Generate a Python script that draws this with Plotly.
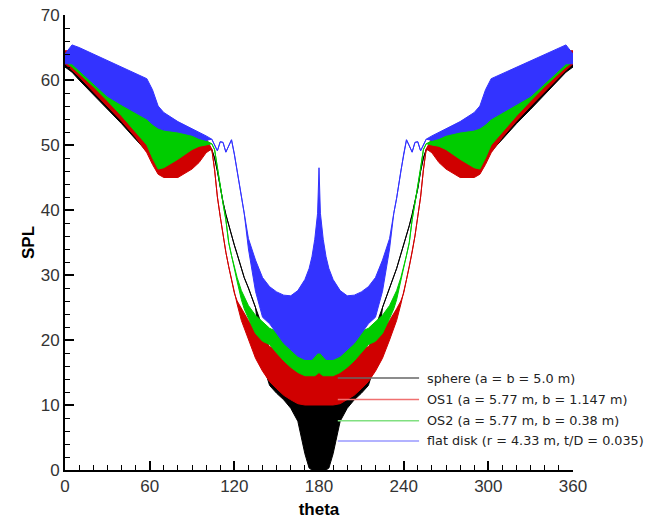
import plotly.graph_objects as go

# theta grid (degrees)
theta = [0, 5, 10, 20, 30, 40, 50, 58, 62, 66, 70, 80, 90, 95, 100, 104, 106, 108, 110, 112,
         114, 116, 118, 120, 122, 125, 127, 130, 135, 140, 145, 150, 155, 160, 165, 170, 173,
         175, 177, 179, 180,
         181, 183, 185, 187, 190, 195, 200, 205, 210, 215, 220, 225, 230, 233, 235, 238, 240,
         242, 244, 246, 248, 250, 252, 254, 256, 260, 265, 270, 280, 290, 294, 298, 302, 310,
         320, 330, 340, 350, 355, 360]

# envelopes of the oscillating SPL curves (upper / lower)
sphere_hi = [64.0, 64.0, 63.0, 61.5, 60.0, 58.5, 57.0, 55.5, 54.5, 53.5, 53.0, 52.5, 51.5, 51.0, 50.5,
             49.3, 48.0, 46.0, 43.3, 41.2, 39.3, 37.6, 36.0, 34.6, 33.2, 31.0, 29.6, 28.0, 25.0, 22.0,
             18.5, 15.5, 13.5, 12.0, 11.0, 11.0, 12.0, 13.0, 14.0, 14.5, 15.0,
             14.5, 14.0, 13.0, 12.0, 11.0, 11.0, 12.0, 13.5, 15.5, 18.5, 22.0, 25.0, 28.0, 29.6, 31.0,
             33.2, 34.6, 36.0, 37.6, 39.3, 41.2, 43.3, 46.0, 48.0, 49.3, 50.5, 51.0, 51.5, 52.5, 53.0,
             53.5, 54.5, 55.5, 57.0, 58.5, 60.0, 61.5, 63.0, 64.0, 64.0]
sphere_lo = [62.0, 61.2, 60.0, 57.8, 55.5, 53.3, 50.9, 49.0, 48.5, 48.0, 47.6, 47.3, 48.0, 48.6, 49.2,
             49.3, 48.0, 46.0, 43.3, 41.2, 39.3, 37.6, 36.0, 34.6, 33.2, 31.0, 29.6, 28.0, 25.0, 16.5,
             13.0, 11.8, 10.8, 9.5, 7.5, 2.5, 0.3, 0.0, 0.0, 0.0, 0.0,
             0.0, 0.0, 0.0, 0.3, 2.5, 7.5, 9.5, 10.8, 11.8, 13.0, 16.5, 25.0, 28.0, 29.6, 31.0,
             33.2, 34.6, 36.0, 37.6, 39.3, 41.2, 43.3, 46.0, 48.0, 49.3, 49.2, 48.6, 48.0, 47.3, 47.6,
             48.0, 48.5, 49.0, 50.9, 53.3, 55.5, 57.8, 60.0, 61.2, 62.0]

os1_hi = [64.5, 64.5, 63.5, 62.0, 60.5, 59.0, 57.5, 56.0, 55.5, 55.0, 54.5, 53.3, 52.2, 51.7, 51.0,
          49.4, 46.2, 42.0, 39.0, 36.0, 33.5, 31.3, 29.3, 27.2, 26.0, 24.8, 24.0, 23.0, 21.5, 20.2,
          19.0, 18.5, 18.0, 17.8, 17.8, 18.0, 18.5, 19.0, 20.5, 23.0, 26.0,
          23.0, 20.5, 19.0, 18.5, 18.0, 17.8, 17.8, 18.0, 18.5, 19.0, 20.2, 21.5, 23.0, 24.0, 24.8,
          26.0, 27.2, 29.3, 31.3, 33.5, 36.0, 39.0, 42.0, 46.2, 49.4, 51.0, 51.7, 52.2, 53.3, 54.5,
          55.0, 55.5, 56.0, 57.5, 59.0, 60.5, 62.0, 63.5, 64.5, 64.5]
os1_lo = [62.5, 61.5, 60.5, 58.2, 56.0, 53.7, 51.2, 48.8, 47.0, 45.5, 45.0, 45.0, 46.3, 47.3, 48.8,
          49.4, 46.2, 42.0, 39.0, 36.0, 33.5, 31.3, 29.3, 27.2, 25.5, 23.0, 21.8, 20.0, 17.2, 15.2,
          13.6, 12.5, 11.5, 10.8, 10.2, 10.0, 10.0, 10.0, 10.0, 10.0, 10.0,
          10.0, 10.0, 10.0, 10.0, 10.0, 10.2, 10.8, 11.5, 12.5, 13.6, 15.2, 17.2, 20.0, 21.8, 23.0,
          25.5, 27.2, 29.3, 31.3, 33.5, 36.0, 39.0, 42.0, 46.2, 49.4, 48.8, 47.3, 46.3, 45.0, 45.0,
          45.5, 47.0, 48.8, 51.2, 53.7, 56.0, 58.2, 60.5, 61.5, 62.5]

os2_hi = [64.0, 64.5, 63.5, 62.0, 60.5, 59.0, 57.5, 56.0, 54.0, 52.5, 52.3, 52.4, 51.8, 51.2, 50.7,
          50.2, 49.3, 46.3, 44.0, 41.0, 38.5, 35.0, 33.0, 31.2, 29.6, 27.6, 26.6, 25.3, 23.8, 22.8,
          21.8, 21.3, 21.0, 20.8, 20.8, 21.0, 22.0, 23.0, 24.5, 26.0, 28.0,
          26.0, 24.5, 23.0, 22.0, 21.0, 20.8, 20.8, 21.0, 21.3, 21.8, 22.8, 23.8, 25.3, 26.6, 27.6,
          29.6, 31.2, 33.0, 35.0, 38.5, 41.0, 44.0, 46.3, 49.3, 50.2, 50.7, 51.2, 51.8, 52.4, 52.3,
          52.5, 54.0, 56.0, 57.5, 59.0, 60.5, 62.0, 63.5, 64.5, 64.0]
os2_lo = [62.8, 62.0, 61.0, 59.0, 56.8, 54.5, 52.0, 50.0, 48.0, 46.3, 46.5, 47.8, 49.3, 49.8, 50.0,
          50.2, 49.3, 46.3, 44.0, 41.0, 38.5, 35.0, 33.0, 31.2, 29.0, 26.2, 24.8, 23.3, 21.0, 19.8,
          19.3, 18.0, 16.8, 15.8, 15.0, 14.5, 14.5, 14.5, 14.5, 14.8, 15.0,
          14.8, 14.5, 14.5, 14.5, 14.5, 15.0, 15.8, 16.8, 18.0, 19.3, 19.8, 21.0, 23.3, 24.8, 26.2,
          29.0, 31.2, 33.0, 35.0, 38.5, 41.0, 44.0, 46.3, 49.3, 50.2, 50.0, 49.8, 49.3, 47.8, 46.5,
          46.3, 48.0, 50.0, 52.0, 54.5, 56.8, 59.0, 61.0, 62.0, 62.8]

disk_hi = [64.0, 65.4, 65.0, 64.0, 63.0, 62.0, 61.0, 60.2, 58.5, 56.0, 55.0, 53.6, 52.5, 52.0, 51.4,
           50.9, 50.0, 49.1, 50.5, 50.4, 48.9, 49.9, 50.8, 48.6, 46.0, 41.8, 39.5, 35.6, 32.3, 29.6,
           28.2, 27.4, 26.9, 26.8, 27.6, 29.3, 31.0, 32.8, 35.5, 39.5, 46.5,
           39.5, 35.5, 32.8, 31.0, 29.3, 27.6, 26.8, 26.9, 27.4, 28.2, 29.6, 32.3, 35.6, 39.5, 41.8,
           46.0, 48.6, 50.8, 49.9, 48.9, 50.4, 50.5, 49.1, 50.0, 50.9, 51.4, 52.0, 52.5, 53.6, 55.0,
           56.0, 58.5, 60.2, 61.0, 62.0, 63.0, 64.0, 65.0, 65.4, 64.0]
disk_lo = [62.5, 62.5, 61.5, 59.5, 57.5, 56.2, 55.0, 54.0, 53.2, 52.6, 52.3, 52.0, 51.5, 51.0, 50.7,
           50.9, 50.0, 49.1, 50.5, 50.4, 48.9, 49.9, 50.8, 48.6, 46.0, 41.8, 39.5, 34.0, 27.5, 23.5,
           22.5, 21.0, 19.5, 18.5, 17.5, 17.0, 17.0, 17.0, 17.5, 18.0, 18.0,
           18.0, 17.5, 17.0, 17.0, 17.0, 17.5, 18.5, 19.5, 21.0, 22.5, 23.5, 27.5, 34.0, 39.5, 41.8,
           46.0, 48.6, 50.8, 49.9, 48.9, 50.4, 50.5, 49.1, 50.0, 50.9, 50.7, 51.0, 51.5, 52.0, 52.3,
           52.6, 53.2, 54.0, 55.0, 56.2, 57.5, 59.5, 61.5, 62.5, 62.5]

names = ["sphere (a = b = 5.0 m)",
         "OS1 (a = 5.77 m, b = 1.147 m)",
         "OS2 (a = 5.77 m, b = 0.38 m)",
         "flat disk (r = 4.33 m, t/D = 0.035)"]
colors = ["#000000", "#d00000", "#00cc00", "#3333ff"]
legend_colors = ["#666666", "#f07070", "#80e080", "#9999ff"]

series = [(sphere_hi, sphere_lo), (os1_hi, os1_lo), (os2_hi, os2_lo), (disk_hi, disk_lo)]

fig = go.Figure()
for (hi, lo), c, n in zip(series, colors, names):
    fig.add_trace(go.Scatter(x=theta, y=hi, mode="lines", line=dict(color=c, width=1),
                             showlegend=False, name=n, hoverinfo="skip"))
    fig.add_trace(go.Scatter(x=theta, y=lo, mode="lines", line=dict(color=c, width=1),
                             fill="tonexty", fillcolor=c, showlegend=False, name=n,
                             hoverinfo="skip"))

# manual legend (Tecplot style long line keys)
leg_y = [0.202, 0.155, 0.108, 0.064]
for yy, c, n in zip(leg_y, legend_colors, names):
    fig.add_shape(type="line", xref="paper", yref="paper", x0=0.537, x1=0.697, y0=yy, y1=yy,
                  line=dict(color=c, width=1.5))
    fig.add_annotation(xref="paper", yref="paper", x=0.709, y=yy, text=n, showarrow=False,
                       xanchor="left", yanchor="middle",
                       font=dict(family="DejaVu Sans", size=12.8, color="#222222"))

axis_common = dict(showgrid=False, zeroline=False, showline=True, linecolor="black", linewidth=2,
                   ticks="inside", ticklen=9, tickwidth=2, tickcolor="black", mirror=False,
                   automargin=False,
                   tickfont=dict(family="Liberation Sans", size=17, color="#333333"))

fig.update_xaxes(range=[0, 360], tickmode="linear", tick0=0, dtick=60,
                 minor=dict(ticks="inside", ticklen=5, tickwidth=1, tickcolor="black", dtick=10),
                 title=dict(text="theta", standoff=10,
                            font=dict(family="Liberation Sans", size=17, color="black", weight="bold")),
                 **axis_common)
fig.update_yaxes(range=[0, 70], tickmode="linear", tick0=0, dtick=10,
                 minor=dict(ticks="inside", ticklen=5, tickwidth=1, tickcolor="black", dtick=2),
                 title=dict(text="SPL", standoff=2,
                            font=dict(family="Liberation Sans", size=17, color="black", weight="bold")),
                 **axis_common)

fig.update_layout(width=648, height=519, margin=dict(l=65, r=75, t=15, b=49),
                  plot_bgcolor="white", paper_bgcolor="white", showlegend=False)

fig.write_html("out.html")
